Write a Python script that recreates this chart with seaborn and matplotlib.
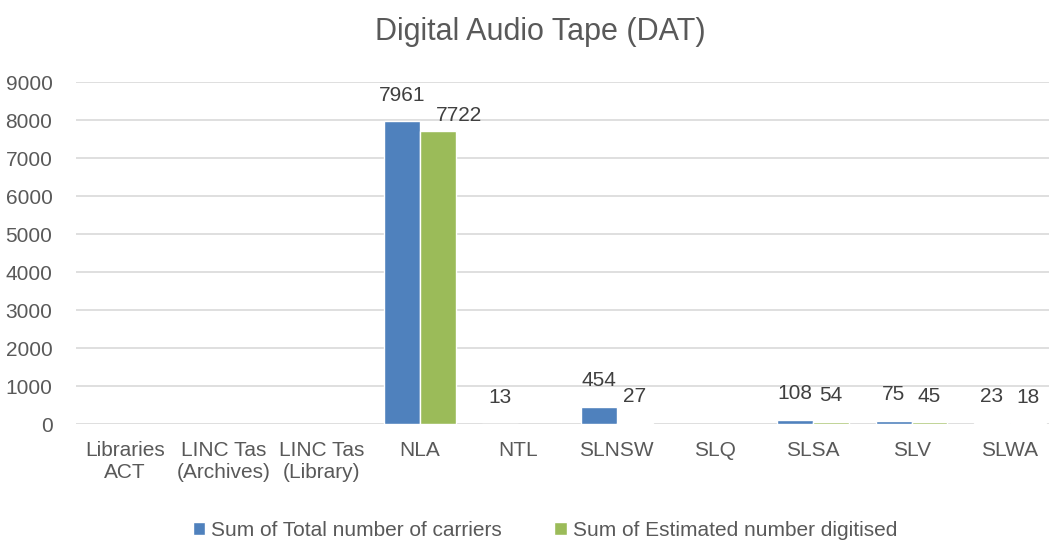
import numpy as np
import pandas as pd
import matplotlib
matplotlib.use("Agg")
import matplotlib.pyplot as plt
import seaborn as sns

categories = ["Libraries\nACT", "LINC Tas\n(Archives)", "LINC Tas\n(Library)", "NLA", "NTL",
              "SLNSW", "SLQ", "SLSA", "SLV", "SLWA"]
total_carriers = [np.nan, np.nan, np.nan, 7961, 13, 454, np.nan, 108, 75, 23]
est_digitised = [np.nan, np.nan, np.nan, 7722, np.nan, 27, np.nan, 54, 45, 18]
series_names = ["Sum of Total number of carriers", "Sum of Estimated number digitised"]
yticks = [0, 1000, 2000, 3000, 4000, 5000, 6000, 7000, 8000, 9000]

df = pd.DataFrame({
    "cat": categories * 2,
    "series": [series_names[0]] * len(categories) + [series_names[1]] * len(categories),
    "value": total_carriers + est_digitised,
})

sns.set_theme(style="white")
plt.rcParams["font.family"] = ["Liberation Sans Narrow", "Liberation Sans", "DejaVu Sans"]
text_color = "#595959"

fig = plt.figure(figsize=(10.49, 5.44), dpi=100)
ax = fig.add_axes([76 / 1049, 1 - 424 / 544, 983 / 1049, 342 / 544])

colors = ["#4F81BD", "#9BBB59"]
sns.barplot(data=df.dropna(), x="cat", y="value", hue="series", order=categories,
            hue_order=series_names, palette=colors, width=0.73, ax=ax, saturation=1,
            errorbar=None, zorder=3)

for i, cont in enumerate(ax.containers):
    anns = ax.bar_label(cont, fmt="{:.0f}", padding=12, fontsize=15, color="#404040")
    if i == 1 and len(anns) > 0:
        # first green label (NLA) sits lower and right in the reference
        anns[0].xyann = (15, 4)

ax.set_ylim(0, 9000)
ax.set_yticks(yticks)
ax.set_yticklabels([str(t) for t in yticks], fontsize=15, color=text_color)
ax.tick_params(axis="x", labelsize=15, labelcolor=text_color, length=0, pad=12)
ax.tick_params(axis="y", length=0, pad=17)
ax.yaxis.grid(True, color="#D9D9D9", linewidth=1.2, zorder=0)
ax.set_axisbelow(True)
for s in ax.spines.values():
    s.set_visible(False)
ax.set_xlabel("")
ax.set_ylabel("")

handles, labels = ax.get_legend_handles_labels()
ax.legend(handles, labels, loc="center", bbox_to_anchor=(545 / 1049, 1 - 530 / 544),
          bbox_transform=fig.transFigure, ncol=2, frameon=False, fontsize=15,
          handlelength=0.6, handleheight=0.6, handletextpad=0.3, columnspacing=2.5,
          labelcolor=text_color)

fig.text(540 / 1049, 1 - 32 / 544, "Digital Audio Tape (DAT)", ha="center", va="center",
         fontsize=22, color=text_color)

fig.savefig("out.png", dpi=100)
